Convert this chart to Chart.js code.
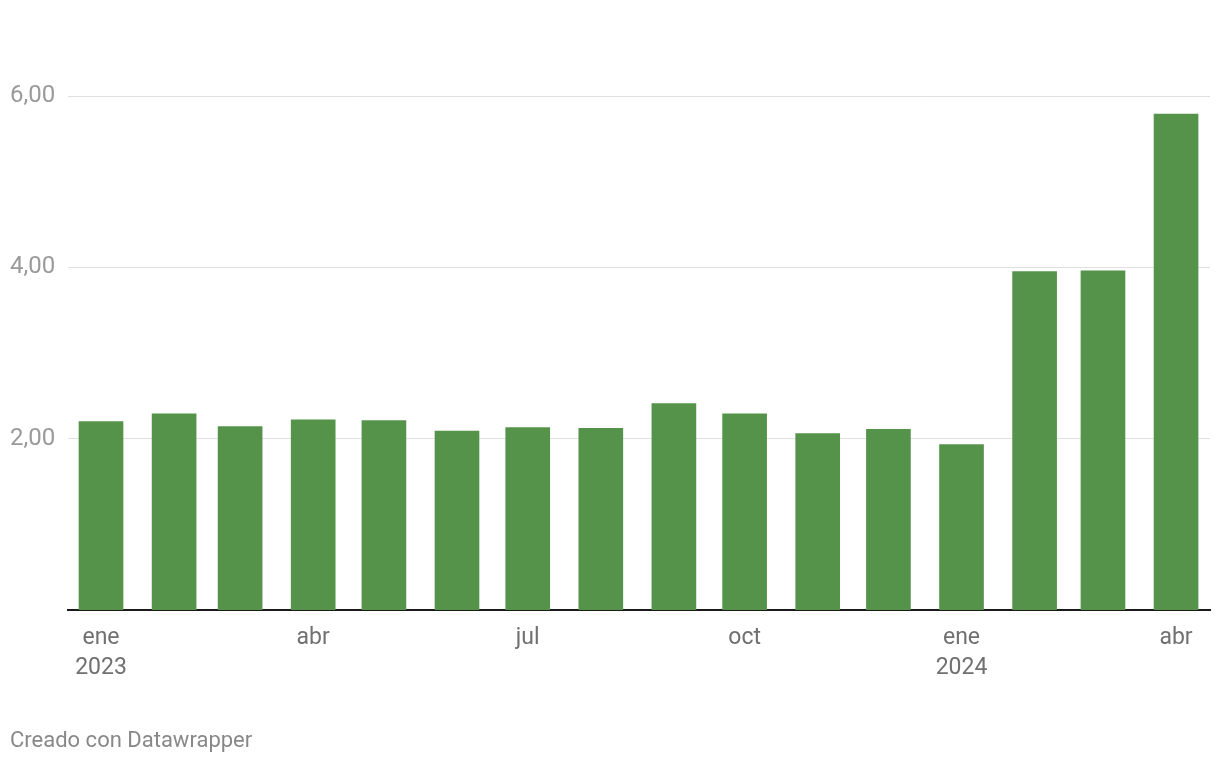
<!DOCTYPE html>
<html>
<head>
<meta charset="utf-8">
<script src="https://cdn.jsdelivr.net/npm/chart.js@4"></script>
<style>
  html, body { margin: 0; padding: 0; background: #fff; }
  #wrap { position: relative; width: 1220px; height: 762px; }
  #footer {
    position: absolute; left: 10px; top: 727px;
    font-family: Roboto, sans-serif; font-size: 22px; color: #888;
  }
</style>
</head>
<body>
<div id="wrap">
  <canvas id="chart" width="1220" height="762"></canvas>
  <div id="footer">Creado con Datawrapper</div>
</div>
<script>
// monthly values, ene 2023 - abr 2024
const months = ['2023-01-01', '2023-02-01', '2023-03-01', '2023-04-01', '2023-05-01', '2023-06-01',
  '2023-07-01', '2023-08-01', '2023-09-01', '2023-10-01', '2023-11-01', '2023-12-01',
  '2024-01-01', '2024-02-01', '2024-03-01', '2024-04-01'];
const values = [2.20, 2.29, 2.14, 2.22, 2.21, 2.09, 2.13, 2.12, 2.41, 2.29, 2.06, 2.11, 1.93, 3.95, 3.96, 5.79];

const tickDates = ['2023-01-01', '2023-04-01', '2023-07-01', '2023-10-01', '2024-01-01', '2024-04-01'];
const tickLabels = [['ene', '2023'], ['abr'], ['jul'], ['oct'], ['ene', '2024'], ['abr']];
const yTicks = [2, 4, 6];

const DAY = 86400000;
const origin = Date.parse('2023-01-01');
const toDay = d => Math.round((Date.parse(d) - origin) / DAY);

const points = months.map((m, i) => ({ x: toDay(m), y: values[i] }));
const tickDays = tickDates.map(toDay);

new Chart(document.getElementById('chart').getContext('2d'), {
  type: 'bar',
  data: {
    datasets: [{
      data: points,
      backgroundColor: '#55934a',
      barThickness: 44
    }]
  },
  options: {
    responsive: false,
    animation: false,
    layout: { padding: { top: 96, left: 10, right: 10, bottom: 0 } },
    plugins: { legend: { display: false }, tooltip: { enabled: false } },
    scales: {
      x: {
        type: 'linear',
        offset: false,
        min: -14,
        max: 470.4,
        afterBuildTicks: s => { s.ticks = tickDays.map(v => ({ value: v })); },
        afterFit: s => { s.height = 152; },
        grid: { display: false, drawTicks: false },
        border: { display: true, color: '#1a1a1a', width: 2 },
        ticks: {
          autoSkip: false,
          maxRotation: 0,
          padding: 13,
          color: '#707070',
          font: { family: 'Roboto', size: 23, lineHeight: 1.3 },
          callback: v => tickLabels[tickDays.indexOf(v)] || ''
        }
      },
      y: {
        min: 0,
        max: 6,
        afterBuildTicks: s => { s.ticks = yTicks.map(v => ({ value: v })); },
        afterFit: s => { s.width = 58; },
        grid: { color: '#e0e0e0', lineWidth: 1, drawTicks: false },
        border: { display: false },
        ticks: {
          crossAlign: 'far',
          padding: 0,
          color: '#9a9a9a',
          font: { family: 'Roboto', size: 24 },
          callback: v => v.toFixed(2).replace('.', ',')
        }
      }
    }
  }
});
</script>
</body>
</html>
